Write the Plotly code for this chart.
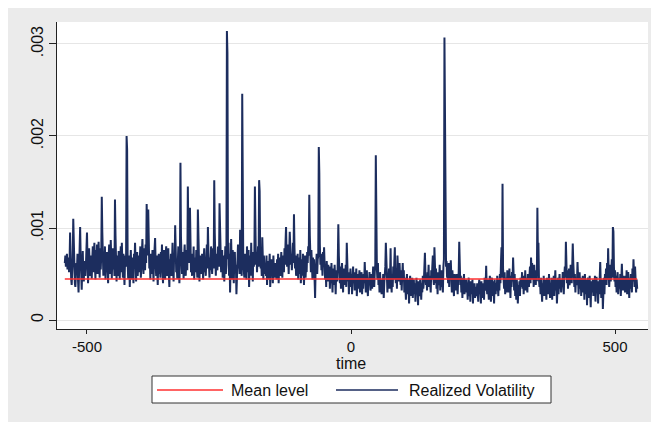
import plotly.graph_objects as go

# ---- data ----
start_time = -542
# realized volatility, in units of 1e-5 (one value per time step)
rv_e5 = [
    62,70,58,66,72,55,60,68,52,64,95,58,45,38,52,66,110,80,58,40,
    36,48,62,55,72,44,30,52,68,101,70,46,33,58,75,50,42,64,57,48,
    60,72,95,66,40,55,78,62,48,70,58,45,66,80,52,72,84,60,44,76,
    58,82,50,68,85,62,46,78,55,70,134,96,60,48,72,58,80,44,66,52,
    74,56,40,68,82,60,50,87,62,45,70,78,55,64,48,131,92,58,42,70,
    62,48,75,58,44,66,80,52,84,60,46,72,55,38,64,70,58,200,185,62,
    45,58,70,36,62,76,50,44,68,57,40,72,60,84,54,42,66,74,48,58,
    70,52,64,80,46,58,74,88,60,50,78,66,54,82,62,126,90,70,120,78,
    56,68,44,72,60,50,76,58,42,66,80,89,62,48,70,54,38,64,72,50,
    62,46,74,58,82,52,40,68,76,55,44,70,80,60,48,64,78,50,36,66,
    58,72,48,62,84,55,42,70,64,103,76,52,60,45,68,80,57,40,66,171,
    90,62,50,74,58,45,70,82,60,48,66,76,54,145,88,62,70,122,78,52,
    64,48,72,56,80,44,62,68,52,76,58,46,120,84,60,42,70,55,66,50,
    72,58,44,66,78,52,62,48,70,82,56,101,74,60,46,68,54,80,62,50,
    64,78,56,152,94,60,48,72,66,54,80,62,58,127,88,70,52,62,76,46,
    58,70,42,64,80,50,60,314,290,66,84,48,72,30,58,88,62,44,76,54,
    40,68,74,52,60,28,46,70,82,56,64,50,98,72,60,48,246,90,62,54,
    46,72,58,66,44,80,62,52,76,36,60,70,48,84,56,64,42,74,58,68,
    145,88,60,74,52,66,80,58,152,140,72,56,64,48,90,62,44,70,58,50,
    62,48,70,38,56,64,44,58,72,36,52,66,48,60,40,70,54,46,62,50,
    58,44,66,52,72,40,60,68,48,62,74,56,46,70,64,52,78,60,84,101,
    70,58,82,64,50,74,96,80,60,72,54,66,84,62,115,78,56,70,48,64,
    56,72,44,62,68,50,76,40,58,66,48,72,54,38,64,70,46,60,52,74,
    62,80,70,136,92,64,52,76,58,44,68,48,66,36,24,56,60,72,50,66,
    70,188,160,82,60,72,54,66,48,74,58,79,62,44,56,36,64,50,42,60,
    46,58,34,52,40,62,48,30,56,44,38,60,50,28,54,46,42,64,104,70,
    52,40,58,34,48,62,44,30,56,38,50,46,60,36,84,64,42,52,28,48,
    44,56,36,50,28,46,58,40,52,32,48,38,56,26,44,50,34,42,54,30,
    46,38,52,28,44,34,50,40,63,48,30,42,54,36,26,46,38,52,44,32,
    40,50,34,46,58,42,36,52,60,179,68,56,44,62,38,48,30,52,40,34,
    28,44,36,50,24,40,46,58,84,52,38,30,48,42,56,34,46,78,40,30,
    50,36,58,44,62,79,48,40,56,34,70,52,42,60,62,46,38,54,32,48,
    62,42,54,30,46,36,22,40,50,28,44,34,18,38,48,26,42,32,46,24,
    36,44,28,40,20,34,46,30,38,16,42,32,26,44,36,22,40,30,48,34,
    42,56,73,50,38,46,32,52,44,60,36,48,40,30,54,44,58,70,46,38,
    79,50,40,56,34,46,28,52,38,44,60,32,48,36,54,42,30,58,66,307,
    173,72,58,64,46,52,40,62,36,56,48,65,42,30,54,38,44,26,50,36,
    46,32,50,40,28,44,52,85,60,38,48,30,42,24,46,36,50,28,40,34,
    44,30,38,22,40,46,26,36,20,42,34,28,44,18,38,30,40,24,36,32,
    26,40,34,20,38,44,28,36,18,42,30,24,40,34,22,46,32,38,59,36,
    28,44,36,22,40,48,30,20,38,46,26,42,34,18,44,36,28,40,32,48,
    38,26,44,32,50,40,62,79,46,148,56,42,34,52,28,46,38,30,54,36,
    44,30,56,40,24,48,36,52,42,68,46,32,50,26,40,22,44,34,18,38,
    30,42,26,46,36,40,52,34,48,28,44,38,54,32,46,40,30,50,42,36,
    48,58,40,68,52,62,44,56,36,60,46,50,38,54,42,122,70,84,44,36,
    42,28,46,36,20,40,32,48,26,44,30,38,22,46,34,40,28,50,36,24,
    38,30,46,22,42,34,48,26,40,54,32,44,18,36,46,28,40,50,34,42,
    30,44,36,52,40,28,48,58,46,85,62,40,54,34,48,56,38,44,60,50,
    40,58,83,62,44,36,50,30,46,38,42,63,48,28,40,52,34,46,26,44,
    36,48,30,42,22,50,38,28,44,16,40,46,32,24,48,36,14,42,30,38,
    44,26,40,34,48,20,36,47,30,42,18,38,28,46,63,40,24,36,44,12,
    34,46,28,50,40,56,38,62,44,78,52,36,48,60,42,54,66,46,101,96,
    58,42,54,36,48,30,44,52,28,40,46,34,50,26,38,61,44,32,48,36,
    42,30,48,36,54,28,44,52,38,24,46,34,50,40,30,56,42,66,48,36,
    58,40,30,44,34,
]
mean_level = 0.000446

y_tick_vals = [0, 0.001, 0.002, 0.003]
y_tick_text = ["0", ".001", ".002", ".003"]
x_tick_vals = [-500, 0, 500]
x_tick_text = ["-500", "0", "500"]

time = list(range(start_time, start_time + len(rv_e5)))
rv = [v * 1e-5 for v in rv_e5]

NAVY = "#1c2d5e"
RED = "#ff3030"
FONT = "Liberation Sans"

fig = go.Figure()
fig.add_trace(go.Scatter(x=time, y=rv, mode="lines", name="Realized Volatility",
                         line=dict(color=NAVY, width=2), showlegend=False))
fig.add_trace(go.Scatter(x=[time[0], time[-1]], y=[mean_level, mean_level], mode="lines",
                         name="Mean level", line=dict(color=RED, width=1.5), showlegend=False))

# page geometry (the page body adds an 8px offset)
OFF = 8
L, R, T, B = 57, 648, 22, 329          # plot area in page pixels
W, H = R - L, B - T
def px(x):
    return (x - L) / W
def py(y):
    return (B - y) / H

fig_w, fig_h = 659 - OFF, 422 - OFF

shapes = [
    dict(type="rect", xref="paper", yref="paper", x0=px(152), x1=px(551), y0=py(403), y1=py(376),
         fillcolor="white", line=dict(color="#333333", width=1)),
    dict(type="line", xref="paper", yref="paper", x0=px(157), x1=px(223), y0=py(390), y1=py(390),
         line=dict(color=RED, width=1.5)),
    dict(type="line", xref="paper", yref="paper", x0=px(336), x1=px(398), y0=py(390), y1=py(390),
         line=dict(color=NAVY, width=1.5)),
]
annotations = [
    dict(text="Mean level", xref="paper", yref="paper", x=px(229), y=py(390), xanchor="left",
         yanchor="middle", showarrow=False, font=dict(family=FONT, size=16, color="#111")),
    dict(text="Realized Volatility", xref="paper", yref="paper", x=px(407), y=py(390), xanchor="left",
         yanchor="middle", showarrow=False, font=dict(family=FONT, size=16, color="#111")),
    dict(text="time", xref="paper", yref="paper", x=px(351), y=py(363), xanchor="center",
         yanchor="middle", showarrow=False, font=dict(family=FONT, size=16, color="#111")),
]

fig.update_layout(
    width=fig_w, height=fig_h,
    margin=dict(l=L - OFF, r=fig_w - (R - OFF), t=T - OFF, b=fig_h - (B - OFF), pad=0),
    paper_bgcolor="#ebebeb", plot_bgcolor="white",
    font=dict(family=FONT, size=16, color="#111"),
    shapes=shapes, annotations=annotations,
    showlegend=False,
)
fig.update_xaxes(range=[-556.8, 562.5], tickvals=x_tick_vals, ticktext=x_tick_text,
                 showgrid=False, zeroline=False, showline=True, linecolor="#222", linewidth=1,
                 ticks="outside", ticklen=4, tickcolor="#222", tickfont=dict(size=15))
fig.update_yaxes(range=[-0.0000978, 0.003239], tickvals=y_tick_vals, ticktext=y_tick_text,
                 tickangle=-90, showgrid=True, gridcolor="#e6e6e6", gridwidth=1,
                 zeroline=False, showline=True, linecolor="#222", linewidth=1,
                 ticks="outside", ticklen=7, tickcolor="#222", tickfont=dict(size=16))

fig.write_html("out.html")
